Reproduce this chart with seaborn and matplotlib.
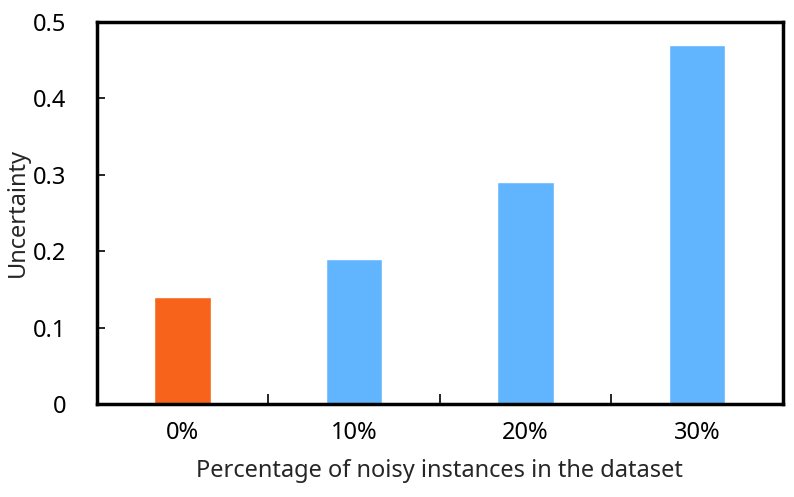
import matplotlib
matplotlib.use("Agg")
import matplotlib.pyplot as plt
import seaborn as sns
import pandas as pd
from matplotlib.ticker import FixedLocator

categories = ["0%", "10%", "20%", "30%"]
values = [0.14, 0.19, 0.29, 0.47]
colors = ["#F7631A", "#61B5FF", "#61B5FF", "#61B5FF"]
yticks = [0, 0.1, 0.2, 0.3, 0.4, 0.5]
ytick_labels = ["0", "0.1", "0.2", "0.3", "0.4", "0.5"]

sns.set_theme(style="white")
plt.rcParams['font.family'] = ['Noto Sans', 'DejaVu Sans']

df = pd.DataFrame({"cat": categories, "val": values})

fig = plt.figure(figsize=(7.94, 4.97), dpi=100)
ax = fig.add_axes([0.122, 0.187, 0.864, 0.769])
sns.barplot(data=df, x="cat", y="val", hue="cat", palette=colors,
            width=0.33, legend=False, ax=ax, saturation=1)

ax.set_xlim(-0.5, 3.5)
ax.set_ylim(0, 0.5)
ax.set_yticks(yticks)
ax.set_yticklabels(ytick_labels)
ax.xaxis.set_minor_locator(FixedLocator([0.5, 1.5, 2.5]))
ax.tick_params(axis="x", which="major", length=0, pad=12, labelsize=17, colors="black")
ax.tick_params(axis="x", which="minor", direction="in", length=7, width=1.2, bottom=True, color="black")
ax.tick_params(axis="y", which="major", direction="in", length=6, width=1.2, left=True, pad=22, labelsize=17, colors="black")
for s in ax.spines.values():
    s.set_linewidth(2.5)
    s.set_color("black")
ax.set_xlabel("Percentage of noisy instances in the dataset", fontsize=17, labelpad=10)
ax.set_ylabel("Uncertainty", fontsize=17, labelpad=2)

fig.savefig("out.png", dpi=100)
